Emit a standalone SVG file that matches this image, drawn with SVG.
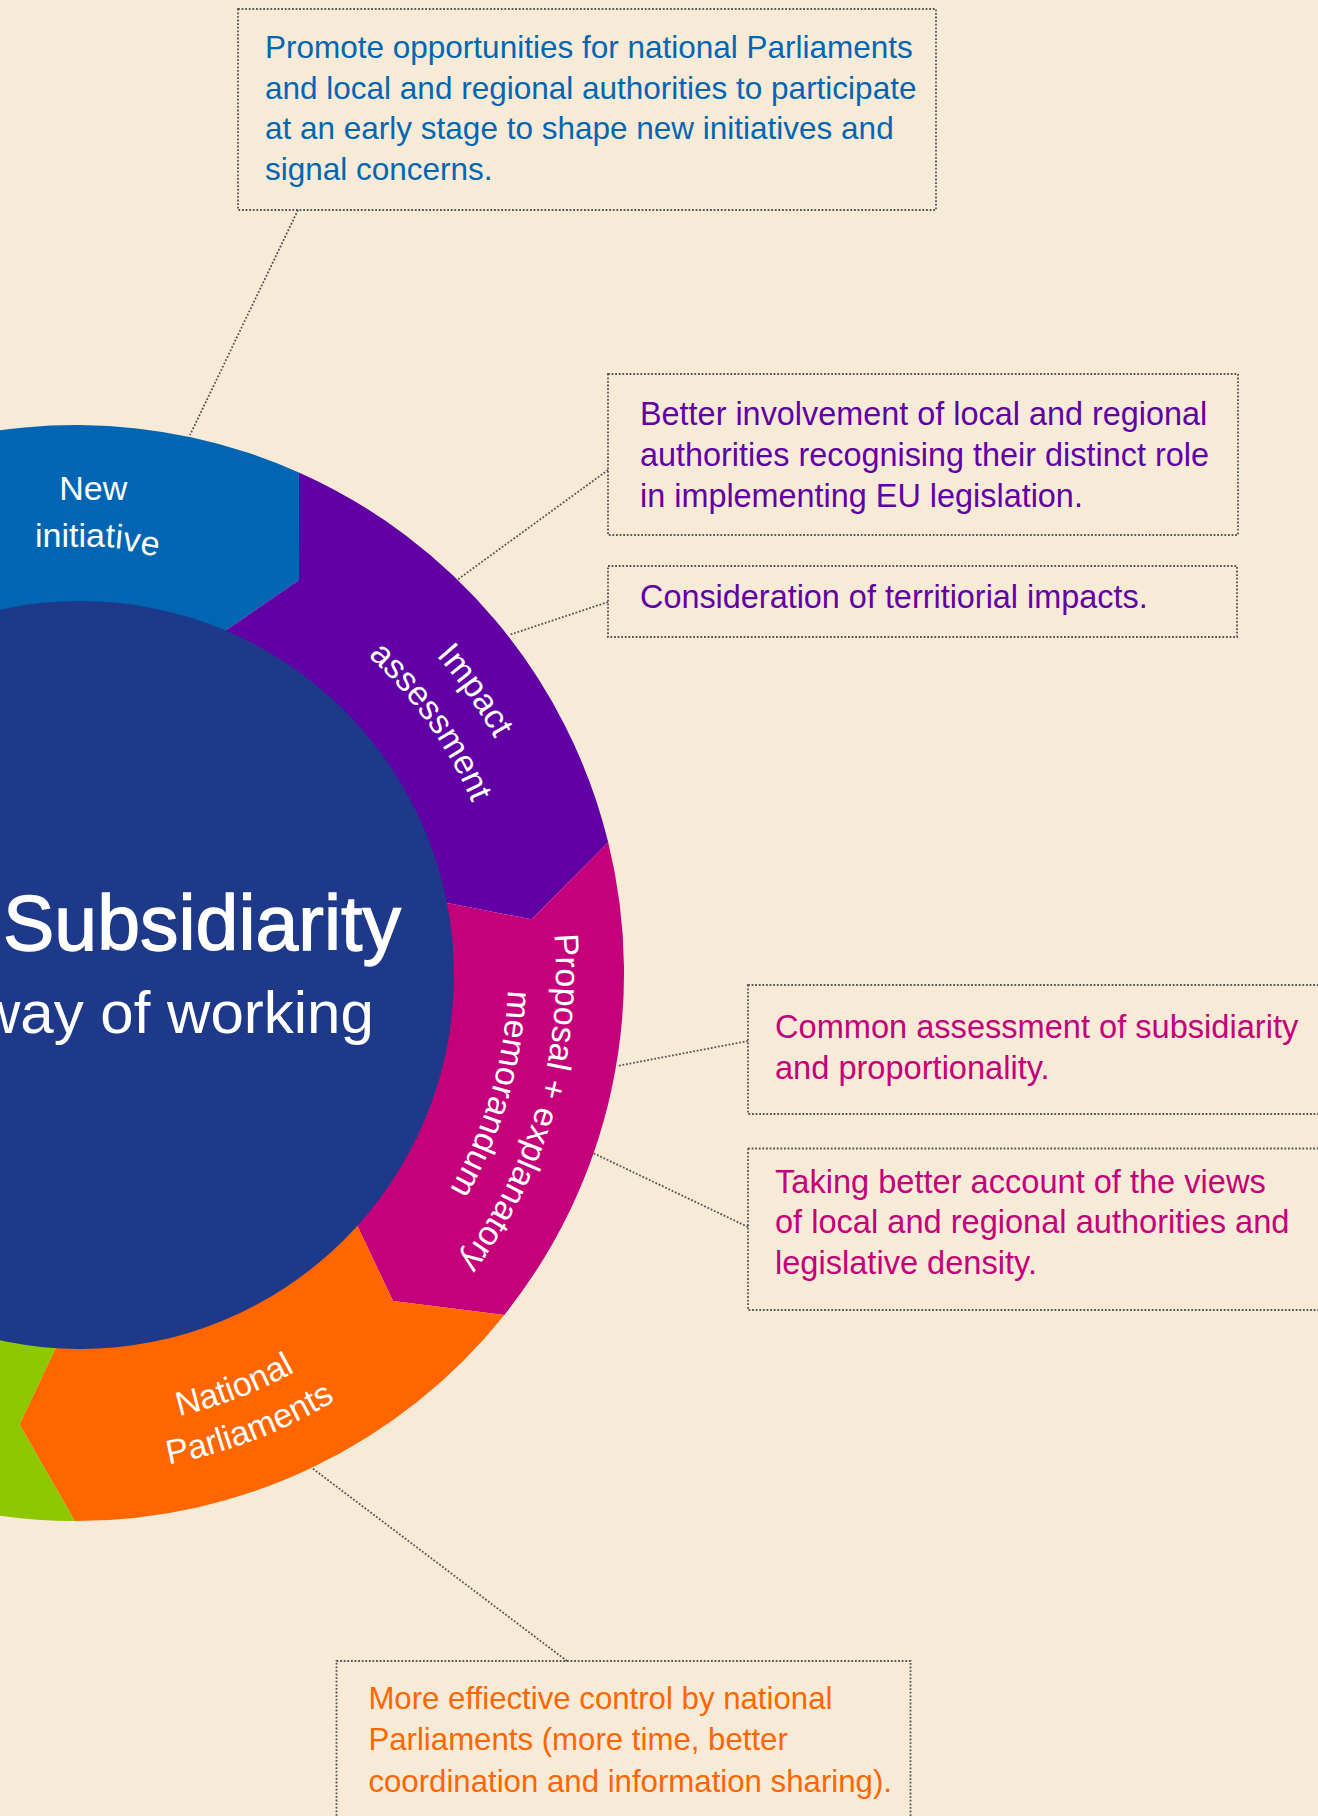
<svg xmlns="http://www.w3.org/2000/svg" width="1318" height="1816" viewBox="0 0 1318 1816">
<defs>
<style>
.bg{fill:#f7ebd7}
.dot{fill:none;stroke:#555;stroke-width:1.8;stroke-dasharray:1.8 1.8}
.ct{font-family:"Liberation Sans",Arial,sans-serif}
.fs1{font-size:31.5px}
.fs2{font-size:32.4px}
.fs4{font-size:32.6px}
.fs6{font-size:31.2px}
.lbl{font-family:"Liberation Sans",Arial,sans-serif;font-size:34px;fill:#fff}
.c-blue{fill:#0066b3}
.c-purple{fill:#6100a5}
.c-pink{fill:#c4007a}
.c-orange{fill:#ff6600}
.c-green{fill:#8dc800}
.c-navy{fill:#1e398a}
</style>
<path id="pIA1" d="M197.8,508.7 A480,480 0 0 1 554.4,1012.3"/>
<path id="pIA2" d="M185.4,556.1 A431,431 0 0 1 505.6,1008.3"/>
<path id="pPR1" d="M515.2,779.3 A480,480 0 0 1 343.0,1371.9"/>
<path id="pPR2" d="M471.3,798.7 A432,432 0 0 1 316.3,1332.0"/>
<path id="pNP1" d="M-72.9,1403.0 A455,455 0 0 0 473.9,1193.6"/>
<path id="pNP2" d="M-87.6,1445.5 A500,500 0 0 0 513.3,1215.4"/>
</defs>
<rect class="bg" x="0" y="0" width="1318" height="1816"/>

<g id="seg-green">
<path class="c-green" d="M76,973 L58,1343.5 L19.7,1424.6 L75,1521 A548,548 0 0 1 -439,1160.4 Z"/>
</g>
<g id="seg-new-initiative">
<path class="c-blue" d="M76,973 L-439,785.6 A548,548 0 0 1 298.9,472.4 L299,580 L225,631 Z"/>
<text class="lbl" x="59.3" y="500">New</text>
<text class="lbl" x="35" y="547">initia<tspan rotate="3">t</tspan><tspan rotate="5" dy="1">i</tspan><tspan rotate="8" dy="2">v</tspan><tspan rotate="11" dy="3">e</tspan></text>
</g>
<g id="seg-impact-assessment">
<path class="c-purple" d="M76,973 L225,631 L299,580 L298.9,472.4 A548,548 0 0 1 608.2,842.3 L531.7,919.3 L448.3,903.3 Z"/>
<text class="lbl" text-anchor="middle"><textPath href="#pIA1" startOffset="50%">Impact</textPath></text>
<text class="lbl" text-anchor="middle"><textPath href="#pIA2" startOffset="50%">assessment</textPath></text>
</g>
<g id="seg-proposal">
<path class="c-pink" d="M76,973 L448.3,903.3 L531.7,919.3 L608.2,842.3 A548,548 0 0 1 504.3,1314.9 L393,1301 L357,1225 Z"/>
<text class="lbl" text-anchor="middle"><textPath href="#pPR1" startOffset="50%">Proposal + explanatory</textPath></text>
<text class="lbl" text-anchor="middle"><textPath href="#pPR2" startOffset="50%">memorandum</textPath></text>
</g>
<g id="seg-national-parliaments">
<path class="c-orange" d="M76,973 L357,1225 L393,1301 L504.3,1314.9 A548,548 0 0 1 75,1521 L19.7,1424.6 L58,1343.5 Z"/>
<text class="lbl" text-anchor="middle"><textPath href="#pNP1" startOffset="50%">National</textPath></text>
<text class="lbl" text-anchor="middle"><textPath href="#pNP2" startOffset="50%">Parliaments</textPath></text>
</g>
<g id="center">
<circle class="c-navy" cx="80" cy="975" r="374"/>
<text x="3" y="950" font-family="Liberation Sans, Arial, sans-serif" font-size="77" fill="#fff" stroke="#fff" stroke-width="1.3">Subsidiarity</text>
<text x="-23" y="1033" font-family="Liberation Sans, Arial, sans-serif" font-size="60" fill="#fff">way of working</text>
</g>

<g id="connectors">
<path class="dot" d="M298,210 L190,435"/>
<path class="dot" d="M608,470 L457,580"/>
<path class="dot" d="M608,602 L509,635"/>
<path class="dot" d="M748,1041 L617,1066"/>
<path class="dot" d="M748,1227 L593,1153"/>
<path class="dot" d="M567,1661 L312,1468"/>
</g>

<g id="note-early-stage">
<rect class="dot" x="238" y="9" width="698" height="201"/>
<text class="ct fs1 c-blue" x="265" y="58">Promote opportunities for national Parliaments</text>
<text class="ct fs1 c-blue" x="265" y="98.7">and local and regional authorities to participate</text>
<text class="ct fs1 c-blue" x="265" y="139.3">at an early stage to shape new initiatives and</text>
<text class="ct fs1 c-blue" x="265" y="180">signal concerns.</text>
</g>
<g id="note-involvement">
<rect class="dot" x="608" y="374" width="630" height="161"/>
<text class="ct fs2 c-purple" x="640" y="425">Better involvement of local and regional</text>
<text class="ct fs2 c-purple" x="640" y="466">authorities recognising their distinct role</text>
<text class="ct fs2 c-purple" x="640" y="506.7">in implementing EU legislation.</text>
</g>
<g id="note-territorial">
<rect class="dot" x="608" y="566" width="629" height="71"/>
<text class="ct fs2 c-purple" x="640" y="608.3">Consideration of territiorial impacts.</text>
</g>
<g id="note-common-assessment">
<rect class="dot" x="748" y="985" width="590" height="129"/>
<text class="ct fs4 c-pink" x="775" y="1038.3">Common assessment of subsidiarity</text>
<text class="ct fs4 c-pink" x="775" y="1079.3">and proportionality.</text>
</g>
<g id="note-views">
<rect class="dot" x="748" y="1148.5" width="590" height="161.5"/>
<text class="ct fs4 c-pink" x="775" y="1192.7">Taking better account of the views</text>
<text class="ct fs4 c-pink" x="775" y="1233.3">of local and regional authorities and</text>
<text class="ct fs4 c-pink" x="775" y="1274">legislative density.</text>
</g>
<g id="note-control">
<rect class="dot" x="336.5" y="1661" width="574" height="200"/>
<text class="ct fs6 c-orange" x="368.4" y="1709.3">More effiective control by national</text>
<text class="ct fs6 c-orange" x="368.4" y="1750">Parliaments (more time, better</text>
<text class="ct fs6 c-orange" x="368.4" y="1791.7">coordination and information sharing).</text>
</g>
</svg>
